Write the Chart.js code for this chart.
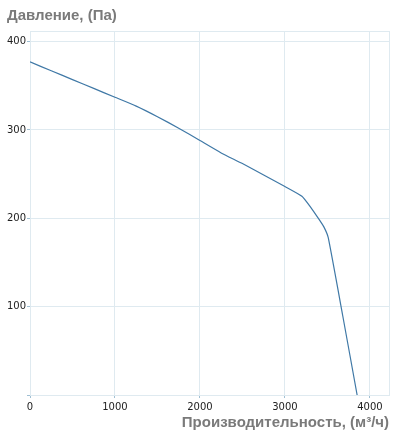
<!DOCTYPE html>
<html>
<head>
<meta charset="utf-8">
<script src="https://cdn.jsdelivr.net/npm/chart.js@4/dist/chart.umd.min.js"></script>
<style>
html,body{margin:0;padding:0;background:#fff;}
#wrap{width:402px;height:436px;position:relative;}
#ytitle{position:absolute;left:7px;top:6px;height:18px;line-height:18px;font-family:'Liberation Sans',Arial,sans-serif;font-weight:bold;font-size:15px;color:#7a7a7a;white-space:nowrap;}
canvas{position:absolute;left:0;top:0;}
</style>
</head>
<body>
<div id="wrap"><canvas id="c" width="402" height="436"></canvas><div id="ytitle"></div></div>
<script>
const flowValues = [0, 250, 500, 750, 1000, 1250, 1500, 1750, 2000, 2250, 2500, 2750, 3000, 3200, 3300, 3400, 3460, 3510, 3680, 3850];
const pressureValues = [377, 367, 357, 347, 337, 327, 315, 302, 288, 274, 262, 249, 236, 225, 213, 199, 190, 178, 90, 0];
const xTicks = [0, 1000, 2000, 3000, 4000];
const yTicks = [100, 200, 300, 400];
const yTitle = 'Давление, (Па)';
const xTitle = 'Производительность, (м³/ч)';

document.getElementById('ytitle').textContent = yTitle;

const points = flowValues.map((x, i) => ({x: x, y: pressureValues[i]}));
const gridColor = '#dfeaf0';
const tickFont = {family: 'DejaVu Sans', size: 10};

const borderPlugin = {
  id: 'boxBorder',
  beforeDatasetsDraw(chart) {
    const a = chart.chartArea, ctx = chart.ctx;
    ctx.save();
    ctx.strokeStyle = gridColor;
    ctx.lineWidth = 1;
    ctx.strokeRect(Math.round(a.left) + 0.5, Math.round(a.top) + 0.5, Math.round(a.right - a.left), Math.round(a.bottom - a.top));
    ctx.restore();
  }
};

new Chart(document.getElementById('c'), {
  type: 'scatter',
  data: {
    datasets: [{
      data: points,
      showLine: true,
      borderColor: '#3f78a6',
      borderWidth: 1.2,
      pointRadius: 0,
      tension: 0.15,
      fill: false
    }]
  },
  options: {
    responsive: false,
    animation: false,
    devicePixelRatio: 1,
    layout: {padding: {left: 0, right: 13, top: 31, bottom: 0}},
    plugins: {
      legend: {display: false},
      tooltip: {enabled: false},
      title: {display: false}
    },
    scales: {
      x: {
        type: 'linear',
        min: 0,
        max: 4225,
        afterBuildTicks(s) { s.ticks = xTicks.map(v => ({value: v})); },
        afterFit(s) { s.height = 41; },
        ticks: {color: '#222222', font: tickFont, padding: 3, maxRotation: 0, callback: v => String(v)},
        grid: {color: gridColor, tickColor: '#9fbfd3', tickLength: 3, drawTicks: true},
        border: {color: gridColor},
        title: {
          display: true,
          text: xTitle,
          align: 'end',
          color: '#7a7a7a',
          font: {family: 'Liberation Sans', size: 15, weight: 'bold'},
          padding: {top: 0, bottom: 4}
        }
      },
      y: {
        type: 'linear',
        min: 0,
        max: 412,
        afterBuildTicks(s) { s.ticks = [0].concat(yTicks).map(v => ({value: v})); },
        afterFit(s) { s.width = 30; },
        ticks: {
          color: '#222222', font: tickFont, padding: 1,
          callback: v => (v === 0 ? '' : String(v))
        },
        grid: {color: gridColor, tickColor: '#9fbfd3', tickLength: 3},
        border: {color: gridColor}
      }
    }
  },
  plugins: [borderPlugin]
});
</script>
</body>
</html>
